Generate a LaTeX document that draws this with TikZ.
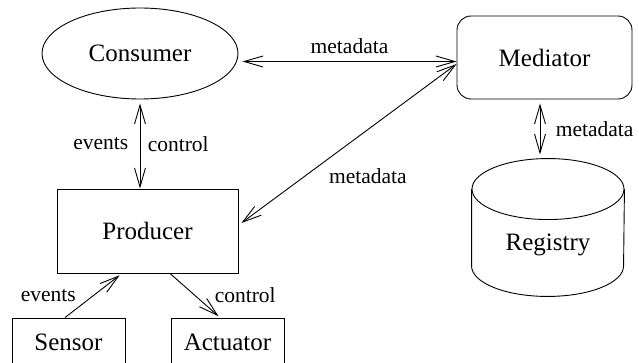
\documentclass[tikz,border=0pt]{standalone}
\usepackage{fontspec}
\setmainfont{Liberation Serif}
\usetikzlibrary{arrows.meta,positioning,shapes.geometric}

\begin{document}
\begin{tikzpicture}[x=1pt, y=1pt, line width=0.9pt,
    >={Straight Barb[length=19pt, width=11pt]},
    every node/.style={font=\fontsize{25}{30}\selectfont},
    box/.style={draw, rectangle, inner sep=0pt},
    tag/.style={font=\fontsize{21.5}{26}\selectfont}]
  \useasboundingbox (0, 0) rectangle (639, 362);

  % Components
  \node[draw, ellipse, inner sep=0pt, minimum width=196pt, minimum height=91pt] (consumer) at (140, 308.5) {Consumer};
  \node[box, rounded corners=14pt, minimum width=175pt, minimum height=83pt] (mediator) at (544.5, 304.5) {Mediator};
  \node[box, minimum width=181pt, minimum height=84pt] (producer) at (147.5, 131) {Producer};

  % Registry drawn as a drum round an empty node
  \node[inner sep=0pt, minimum width=152pt, minimum height=137pt,
        label={[yshift=-17pt]center:Registry}] (registry) at (548, 134.5) {};
  \draw ([yshift=-30.5pt]registry.north) ellipse[x radius=76pt, y radius=30.5pt];
  \draw ([yshift=-30.5pt]registry.north west) -- ([yshift=30.5pt]registry.south west)
    arc[start angle=180, end angle=360, x radius=76pt, y radius=30.5pt]
    -- ([yshift=-30.5pt]registry.north east);

  % Devices, cut off by the bottom edge
  \node[box, minimum width=113pt, minimum height=48pt] (sensor) at (68.5, 20) {Sensor};
  \node[box, minimum width=113pt, minimum height=48pt] (actuator) at (227.5, 20) {Actuator};

  % Metadata exchange
  \draw[<->] ([xshift=4pt, yshift=-8pt]consumer.east) -- node[tag, above=4pt] {metadata}
    ([yshift=-8pt]consumer.east -| mediator.west);
  \draw[<->] ([xshift=3pt, yshift=8pt]producer.east) -- node[tag, pos=0.39, below right=4pt and 0pt] {metadata}
    ([yshift=-6.5pt]mediator.west);
  \draw[<->, shorten <=4pt, shorten >=4pt] ([xshift=-4.5pt]mediator.south) -- node[tag, right=12pt] {metadata}
    ([xshift=-4.5pt]mediator.south |- registry.north);

  % Events and control
  \draw[<->, shorten <=4pt] (consumer.south) -- node[tag, left=8pt] {events} node[tag, right=4pt] {control}
    (consumer.south |- producer.north);
  \draw[->, shorten >=3pt] ([xshift=-3.5pt]sensor.north) -- node[tag, left=14pt] {events}
    ([xshift=-25.5pt]producer.south);
  \draw[->, shorten >=2pt] ([xshift=22.5pt]producer.south) -- node[tag, right=16pt] {control}
    ([xshift=-7.5pt]actuator.north);
\end{tikzpicture}
\end{document}
